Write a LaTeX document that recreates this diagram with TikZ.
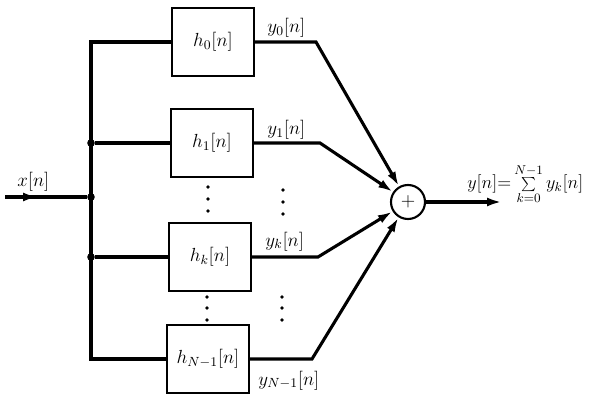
\documentclass[tikz,border=0pt]{standalone}
\usepackage{fix-cm}
\usetikzlibrary{arrows.meta}

\tikzset{
  filt/.style={draw, line width=1.5pt, minimum width=2.05cm, minimum height=1.72cm, inner sep=0pt},
  adder/.style={draw, circle, line width=1.5pt, minimum size=0.85cm, inner sep=0pt},
  junc/.style={circle, fill, minimum size=0.19cm, inner sep=0pt},
  sig/.style={line width=2.2pt},
  arr/.style={sig, -{Latex[length=0.37cm,width=0.22cm]}},
  lbl/.style={anchor=base west, inner sep=0pt}
}

\begin{document}
\begin{tikzpicture}[x=0.025cm, y=-0.025cm, font=\fontsize{13.5}{16}\selectfont]
    \useasboundingbox (0,0) rectangle (591,400);

    % Filters
    \node[filt] (h0) at (213,42) {$h_0[n]$};
    \node[filt] (h1) at (212,143) {$h_1[n]$};
    \node[filt] (hk) at (210,257) {$h_k[n]$};
    \node[filt] (hN) at (208,359) {$h_{N-1}[n]$};

    % Adder
    \node[adder] (sum) at (408,202) {$+$};

    % Junctions and corners
    \coordinate (in) at (5,197);
    \coordinate (xm) at (38,197);
    \coordinate (t0) at (91,42);
    \coordinate (tN) at (91,359);
    \node[junc] (j1) at (91,143) {};
    \node[junc] (jin) at (91,197) {};
    \node[junc] (jk) at (91,257) {};

    % Bends
    \coordinate (b0) at (316,42);
    \coordinate (b1) at (320,143);
    \coordinate (bk) at (318,257);
    \coordinate (bN) at (312,359);
    \coordinate (out) at (502,202);

    % Input
    \draw[sig] (in) -- (jin);
    \draw[arr] (in) -- (xm);
    \node[lbl] (xlab) at (17,186) {$x[n]$};

    % Bus
    \draw[sig] (h0.west) -- (t0) -- (tN) -- (hN.west);
    \draw[sig] (j1) -- (h1.west);
    \draw[sig] (jk) -- (hk.west);

    % Outputs
    \draw[arr] (h0.east) -- (b0) -- (sum);
    \draw[arr] (h1.east) -- (b1) -- (sum);
    \draw[arr] (hk.east) -- (bk) -- (sum);
    \draw[arr] (hN.east) -- (bN) -- (sum);
    \draw[arr] (sum) -- (out);

    % Labels
    \node[lbl] (y0lab) at (267,33) {$y_0[n]$};
    \node[lbl] (y1lab) at (267,135) {$y_1[n]$};
    \node[lbl] (yklab) at (265,246) {$y_k[n]$};
    \node[lbl] (yNlab) at (258,385) {$y_{N-1}[n]$};
    \node[lbl, font=\fontsize{13}{15}\selectfont] (ylab) at (467,189)
      {$y[n]{=}\sum\limits_{k=0}^{N-1}y_k[n]$};

    % Dots
    \foreach \y in {187,199,211} \fill (208,\y) circle (1.3pt);
    \foreach \y in {190,202,214} \fill (283,\y) circle (1.3pt);
    \foreach \y in {297,308,320} {
      \fill (207,\y) circle (1.3pt);
      \fill (282,\y) circle (1.3pt);
    }
\end{tikzpicture}
\end{document}
